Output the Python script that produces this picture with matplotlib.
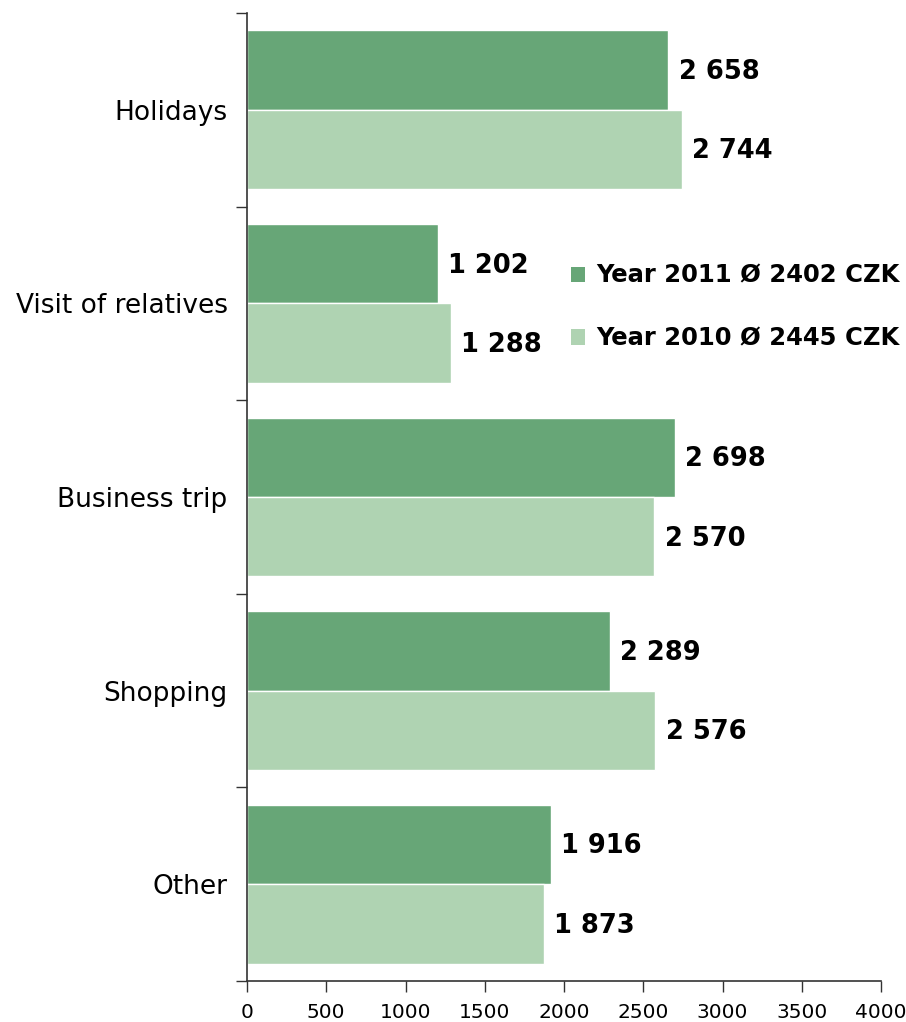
import matplotlib
matplotlib.use("Agg")
import matplotlib.pyplot as plt
from matplotlib.patches import Patch
import numpy as np

categories = ["Holidays", "Visit of relatives", "Business trip", "Shopping", "Other"]
values_2011 = [2658, 1202, 2698, 2289, 1916]
values_2010 = [2744, 1288, 2570, 2576, 1873]
legend_labels = ["Year 2011 \u00d8 2402 CZK", "Year 2010 \u00d8 2445 CZK"]
xticks = [0, 500, 1000, 1500, 2000, 2500, 3000, 3500, 4000]

c_dark = "#67a677"
c_light = "#afd3b2"

plt.rcParams['font.family'] = ['DejaVu Sans']
fig = plt.figure(figsize=(9.06, 10.22), dpi=100)
ax = fig.add_axes([247/906, 1-981/1022, (881-247)/906, (981-13)/1022])

y = np.arange(len(categories))
h = 0.41
ax.barh(y - h/2, values_2011, height=h, color=c_dark, edgecolor="white", linewidth=1)
ax.barh(y + h/2, values_2010, height=h, color=c_light, edgecolor="white", linewidth=1)

def fmt(v):
    return f"{v:,}".replace(",", " ")

for yi, v in zip(y, values_2011):
    ax.text(v + 65, yi - h/2 + 0.01, fmt(v), va="center", ha="left", fontsize=18.5, fontweight="bold")
for yi, v in zip(y, values_2010):
    ax.text(v + 65, yi + h/2 + 0.01, fmt(v), va="center", ha="left", fontsize=18.5, fontweight="bold")

ax.set_xlim(0, 4000)
ax.set_ylim(len(categories) - 0.5, -0.5)
ax.set_xticks(xticks)
ax.set_xticklabels([str(t) for t in xticks], fontsize=14.5)
ax.set_yticks(y)
ax.set_yticklabels(categories, fontsize=19)
ax.tick_params(axis="y", which="major", length=0, pad=14)
ax.set_yticks(np.arange(-0.5, len(categories), 1.0), minor=True)
ax.tick_params(axis="y", which="minor", length=8, width=1, color="#333333")
ax.tick_params(axis="x", length=8, width=1, color="#333333", pad=8)
for s in ["top", "right"]:
    ax.spines[s].set_visible(False)
for s in ["left", "bottom"]:
    ax.spines[s].set_color("#333333")
    ax.spines[s].set_linewidth(1.2)

handles = [Patch(facecolor=c_dark, edgecolor="none"), Patch(facecolor=c_light, edgecolor="none")]
leg = ax.legend(handles, legend_labels, loc="upper left", bbox_to_anchor=(549/906, 1-242/1022),
                bbox_transform=fig.transFigure, frameon=False, handlelength=0.6, handleheight=0.6,
                handletextpad=0.45, labelspacing=1.6, prop={"size": 17.5, "weight": "bold"})

fig.savefig("out.png", dpi=100)
